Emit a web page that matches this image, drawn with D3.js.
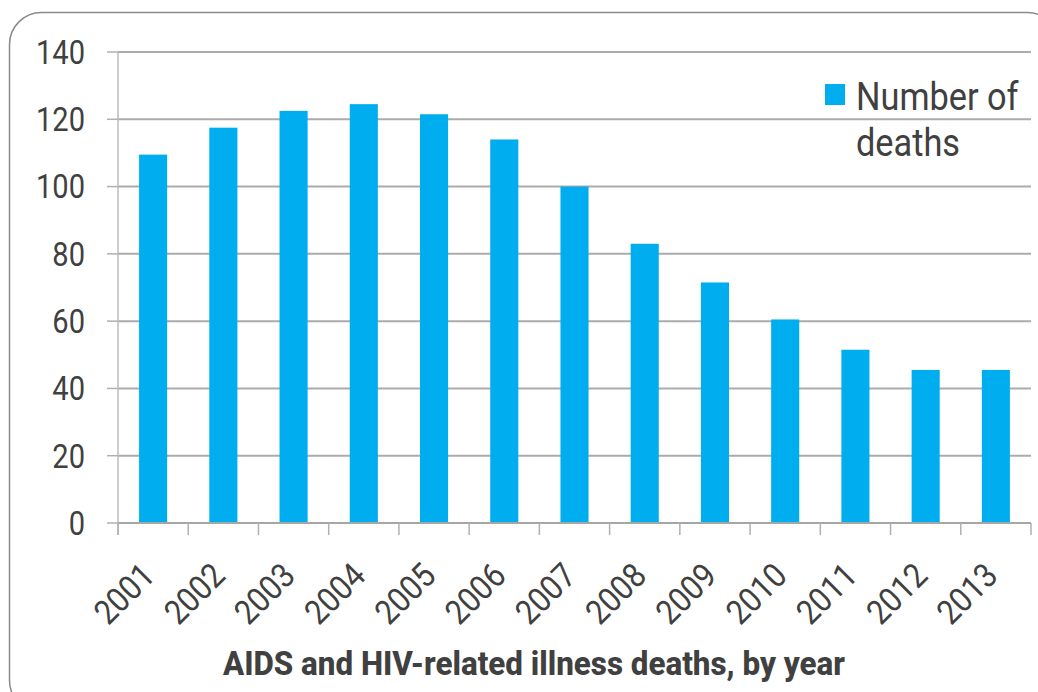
<!DOCTYPE html>
<html>
<head>
<meta charset="utf-8">
<script src="https://cdn.jsdelivr.net/npm/d3@7"></script>
<style>
  html, body { margin: 0; padding: 0; background: #fff; }
  svg { display: block; font-family: Roboto, "Noto Sans", sans-serif; }
</style>
</head>
<body>
<svg id="chart" width="1038" height="692"></svg>
<script>
var years  = ['2001', '2002', '2003', '2004', '2005', '2006', '2007', '2008', '2009', '2010', '2011', '2012', '2013'];
var deaths = [109.5, 117.5, 122.5, 124.5, 121.5, 114, 100, 83, 71.5, 60.5, 51.5, 45.5, 45.5];
var yTicks = [0, 20, 40, 60, 80, 100, 120, 140];
var seriesName = ['Number of', 'deaths'];
var title = 'AIDS and HIV-related illness deaths, by year';

var svg = d3.select('#chart');
var squeeze = 0.88;
var textColor = '#404040';

// outer rounded frame
svg.append('rect')
    .attr('x', 9.5).attr('y', 12.5)
    .attr('width', 1050).attr('height', 700)
    .attr('rx', 32).attr('ry', 32)
    .attr('fill', 'none')
    .attr('stroke', '#8a8a8a')
    .attr('stroke-width', 1.5);

var x = d3.scaleBand()
    .domain(years)
    .range([118, 1031])
    .paddingInner(0.6)
    .paddingOuter(0.3);

var y = d3.scaleLinear()
    .domain([0, 140])
    .range([523, 52]);

var step = x.step();
var edges = years.map(d => x(d) - step * 0.3).concat([x.range()[1]]);

// gridlines
svg.append('g').attr('class', 'grid')
    .selectAll('line')
    .data(yTicks.filter(v => v > 0))
    .enter().append('line')
    .attr('x1', 118).attr('x2', 1031)
    .attr('y1', d => y(d)).attr('y2', d => y(d))
    .attr('stroke', '#ababab')
    .attr('stroke-width', 2);

// y axis line and ticks
svg.append('line')
    .attr('x1', 118).attr('x2', 118)
    .attr('y1', y(140)).attr('y2', y(0) + 12)
    .attr('stroke', '#bcbcbc')
    .attr('stroke-width', 1.5);

svg.append('g').attr('class', 'y-ticks')
    .selectAll('line')
    .data(yTicks)
    .enter().append('line')
    .attr('x1', 107).attr('x2', 118)
    .attr('y1', d => y(d)).attr('y2', d => y(d))
    .attr('stroke', '#b0b0b0')
    .attr('stroke-width', 1.5);

svg.append('g').attr('class', 'y-labels')
    .selectAll('text')
    .data(yTicks)
    .enter().append('text')
    .attr('transform', d => `translate(85, ${ y(d) }) scale(${ squeeze }, 1)`)
    .attr('text-anchor', 'end')
    .attr('dy', '0.36em')
    .attr('font-size', 33)
    .attr('fill', textColor)
    .text(d => d);

// bars
svg.append('g').attr('class', 'bars')
    .selectAll('rect')
    .data(deaths)
    .enter().append('rect')
    .attr('x', (d, i) => x(years[i]))
    .attr('y', d => y(d))
    .attr('width', x.bandwidth())
    .attr('height', d => y(0) - y(d))
    .attr('fill', '#00aeef');

// x axis
svg.append('line')
    .attr('x1', 118).attr('x2', 1031)
    .attr('y1', y(0)).attr('y2', y(0))
    .attr('stroke', '#a6a6a6')
    .attr('stroke-width', 2);

svg.append('g').attr('class', 'x-ticks')
    .selectAll('line')
    .data(edges)
    .enter().append('line')
    .attr('x1', d => d).attr('x2', d => d)
    .attr('y1', y(0)).attr('y2', y(0) + 12)
    .attr('stroke', '#b0b0b0')
    .attr('stroke-width', 1.5);

svg.append('g').attr('class', 'x-labels')
    .selectAll('text')
    .data(years)
    .enter().append('text')
    .attr('transform', d => `translate(${ x(d) + x.bandwidth() / 2 - 5 }, 569) rotate(-45) scale(0.9, 1)`)
    .attr('text-anchor', 'end')
    .attr('dy', '0.36em')
    .attr('font-size', 34)
    .attr('fill', textColor)
    .text(d => d);

// legend
var legend = svg.append('g').attr('class', 'legend');
legend.append('rect')
    .attr('x', 825).attr('y', 84)
    .attr('width', 20).attr('height', 21)
    .attr('fill', '#00aeef');
legend.selectAll('text')
    .data(seriesName)
    .enter().append('text')
    .attr('transform', (d, i) => `translate(856, ${ 110 + i * 46 }) scale(${ squeeze }, 1)`)
    .attr('font-size', 39)
    .attr('fill', textColor)
    .text(d => d);

// title
svg.append('text')
    .attr('x', 223).attr('y', 675)
    .attr('font-size', 33)
    .attr('font-weight', 800)
    .attr('fill', textColor)
    .attr('textLength', 622)
    .attr('lengthAdjust', 'spacingAndGlyphs')
    .text(title);
</script>
</body>
</html>
